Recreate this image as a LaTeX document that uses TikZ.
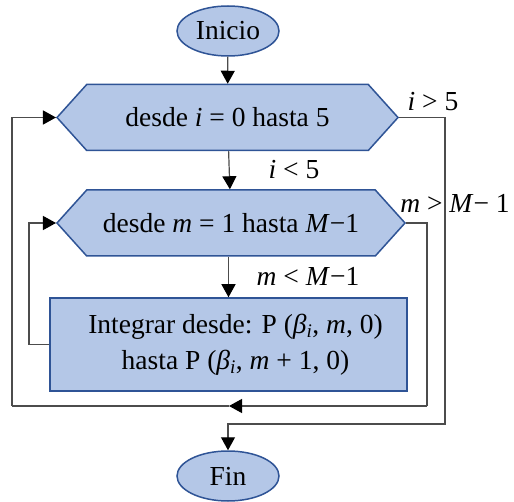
\documentclass[tikz,border=0pt]{standalone}
\usepackage{fontspec}
\setmainfont{Liberation Serif}
\usetikzlibrary{shapes.geometric,shapes.symbols,arrows.meta}

\definecolor{boxfill}{HTML}{B4C7E7}
\definecolor{boxline}{HTML}{2F5496}

\tikzset{
  term/.style={ellipse, draw=boxline, fill=boxfill, line width=1.5pt,
    minimum width=102pt, minimum height=50pt, inner sep=0pt},
  loopbox/.style={signal, signal to=west and east, signal pointer angle=96,
    draw=boxline, fill=boxfill, line width=1.5pt, minimum height=66pt, inner sep=0pt},
  procbox/.style={rectangle, draw=boxline, fill=boxfill, line width=1.5pt,
    minimum width=357pt, minimum height=93pt, align=center},
  conn/.style={draw=black!70, line width=1.2pt},
  arrowed/.style={-{Triangle[length=13pt,width=14pt,color=black]}},
  lbl/.style={inner sep=0pt, font=\fontsize{27.5}{30}\selectfont},
}

\begin{document}
\begin{tikzpicture}[x=1pt, y=-1pt, font=\fontsize{27.5}{36}\selectfont]
  \useasboundingbox (0,0) rectangle (514,502);

  % Shapes
  \node[term] (inicio) at (228,31) {Inicio};
  \node[loopbox, minimum width=341pt] (bucle1) at (227.5,117.5) {desde \textit{i} = 0 hasta 5};
  \node[loopbox, minimum width=348pt] (bucle2) at (231,223) {desde \textit{m} = 1 hasta \textit{M}−1};
  \node[procbox] (integra) at (228.5,344.5) {\hspace*{14pt}Integrar desde: P (\textit{β}\textsubscript{\textit{i}}, \textit{m}, 0)\\
    \hspace*{14pt}hasta P (\textit{β}\textsubscript{\textit{i}}, \textit{m} + 1, 0)};
  \node[term] (fin) at (228,476) {Fin};

  % Corner points of the loops
  \coordinate (inx) at (29,0);
  \coordinate (ra) at (427,406);
  \coordinate (mid) at (229,406);
  \coordinate (lb) at (12,406);
  \coordinate (rb) at (445,424);

  % Straight flow
  \draw[conn, arrowed] (inicio) -- (bucle1);
  \draw[conn, arrowed] (bucle1) -- (bucle2);
  \draw[conn, arrowed] (bucle2.south -| integra.north) -- (integra);

  % Inner loop back
  \draw[conn, arrowed] (integra.west) -- (integra.west -| inx) |- (bucle2.west);

  % Outer loop back
  \draw[conn] (bucle2.east) -| (ra);
  \draw[conn, arrowed] (ra) -- (mid);
  \draw[conn] (mid) -- (lb);
  \draw[conn, arrowed] (lb) |- (bucle1.west);

  % Exit
  \draw[conn, arrowed] (bucle1.east) -| (rb) -| (fin.north);

  % Labels
  \node[lbl] (lsal1) at (433,102) {\textit{i} > 5};
  \node[lbl] (lent1) at (294,170) {\textit{i} < 5};
  \node[lbl] (lsal2) at (455,203) {\textit{m} > \textit{M}− 1};
  \node[lbl] (lent2) at (308,276) {\textit{m} < \textit{M}−1};
\end{tikzpicture}
\end{document}
